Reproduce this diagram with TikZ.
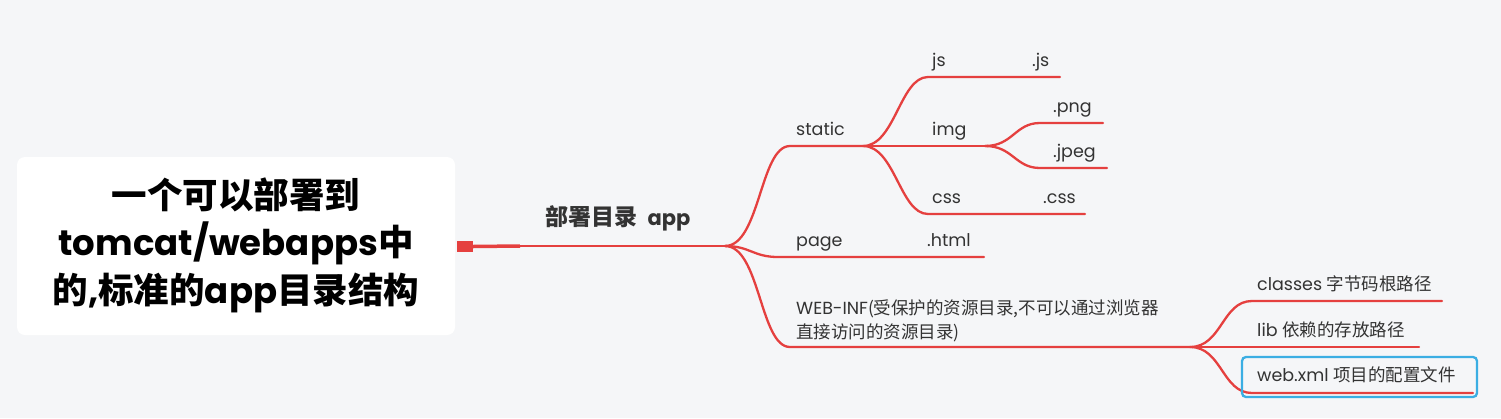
\documentclass[tikz,border=0pt]{standalone}
\usepackage{fontspec}
\setmainfont{Poppins}
\newfontfamily\cjk{Noto Sans CJK SC}
\definecolor{bgc}{HTML}{F5F6F8}
\definecolor{brc}{HTML}{E5403F}
\definecolor{txc}{HTML}{333333}
\definecolor{selc}{HTML}{3BAEE3}
\tikzset{
  br/.style={draw=brc, line width=2.3pt, line cap=round},
  lbl/.style={anchor=base west, inner sep=0pt, text=txc, font=\fontsize{17.5}{24}\selectfont},
}
\begin{document}
\begin{tikzpicture}[x=1pt,y=-1pt]
\fill[bgc] (0,0) rectangle (1501,418);
\useasboundingbox (0,0) rectangle (1501,418);
% root
\fill[white, rounded corners=8pt] (17,157) rectangle (455,335);
\node[align=center, inner sep=0pt, font=\bfseries\fontsize{35.5}{47.5}\selectfont] (root) at (236,245)
  {{\cjk\bfseries 一个可以部署到}\\tomcat/webapps{\cjk\bfseries 中}\\{\cjk\bfseries 的},{\cjk\bfseries 标准的}app{\cjk\bfseries 目录结构}};
\node[fill=brc, minimum width=16pt, minimum height=11pt, inner sep=0pt] (handle) at (465,246.5) {};
\coordinate (r1) at (520,246);
\coordinate (b0) at (725,246);
\draw[draw=brc, line width=3.5pt] (handle.east) -- (r1);
\draw[br] (r1) -- (b0);
\node[anchor=base west, inner sep=0pt, text=txc, font=\bfseries\fontsize{21}{24}\selectfont] (app) at (545,225)
  {{\cjk\bfseries\fontsize{23}{24}\selectfont 部署目录}\hspace{0.5em}app};
% level 1
\coordinate (sL) at (790,146); \coordinate (s) at (863,146);
\coordinate (pL) at (778,257); \coordinate (pE) at (984,257);
\coordinate (wL) at (790,347); \coordinate (w) at (1190,347);
\draw[br] (b0) .. controls +(35,0) and +(-30,0) .. (sL) -- (s);
\draw[br] (b0) .. controls +(25,0) and +(-25,0) .. (pL) -- (pE);
\draw[br] (b0) .. controls +(35,0) and +(-30,0) .. (wL) -- (w);
\node[lbl] (static) at (796,135) {static};
\node[lbl] (page) at (796,246) {page};
\node[lbl] (html) at (927,246) {.html};
\node[lbl, align=left] (webinf) at (796,338) {WEB-INF{\cjk (受保护的资源目录,不可以通过浏览器}\\{\cjk 直接访问的资源目录)}};
% static children
\coordinate (jL) at (928,77); \coordinate (jE) at (1060,77);
\coordinate (i) at (985,146);
\coordinate (cL) at (928,214); \coordinate (cE) at (1085,214);
\draw[br] (s) .. controls +(32,0) and +(-28,0) .. (jL) -- (jE);
\draw[br] (s) -- (i);
\draw[br] (s) .. controls +(32,0) and +(-28,0) .. (cL) -- (cE);
\node[lbl] (js) at (932,66) {js};
\node[lbl] (jsx) at (1032,66) {.js};
\node[lbl] (img) at (932,135) {img};
\node[lbl] (css) at (932,203) {css};
\node[lbl] (cssx) at (1043,203) {.css};
% img children
\coordinate (pngL) at (1040,123); \coordinate (pngE) at (1103,123);
\coordinate (jpL) at (1040,168); \coordinate (jpE) at (1107,168);
\draw[br] (i) .. controls +(28,0) and +(-25,0) .. (pngL) -- (pngE);
\draw[br] (i) .. controls +(28,0) and +(-25,0) .. (jpL) -- (jpE);
\node[lbl] (png) at (1053,112) {.png};
\node[lbl] (jpeg) at (1053,157) {.jpeg};
% WEB-INF children
\coordinate (clL) at (1252,301); \coordinate (clE) at (1442,301);
\coordinate (libE) at (1419,347);
\coordinate (wxL) at (1252,393); \coordinate (wxE) at (1473,393);
\draw[br] (w) .. controls +(32,0) and +(-30,0) .. (clL) -- (clE);
\draw[br] (w) -- (libE);
\draw[br] (w) .. controls +(32,0) and +(-30,0) .. (wxL) -- (wxE);
\node[lbl] (classes) at (1257,290) {classes {\cjk 字节码根路径}};
\node[lbl] (lib) at (1257,336) {lib {\cjk 依赖的存放路径}};
\node[lbl] (webxml) at (1257,381) {web.xml {\cjk 项目的配置文件}};
\draw[draw=selc, line width=2.3pt, rounded corners=4pt] (1242,357) rectangle (1477,397);
\end{tikzpicture}
\end{document}
